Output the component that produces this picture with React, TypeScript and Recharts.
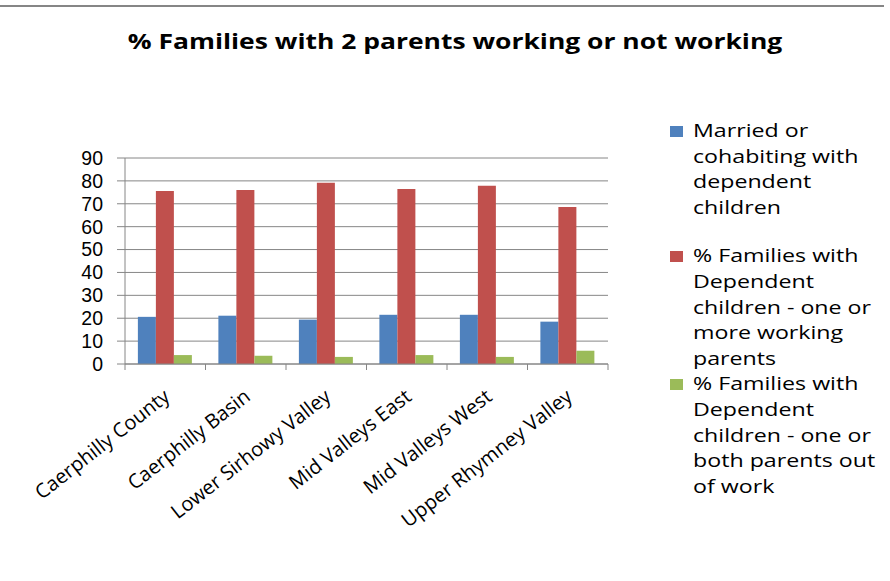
import React from 'react';
import { BarChart, Bar, XAxis, YAxis, CartesianGrid, Legend } from 'recharts';

const categories = [
  'Caerphilly County',
  'Caerphilly Basin',
  'Lower Sirhowy Valley',
  'Mid Valleys East',
  'Mid Valleys West',
  'Upper Rhymney Valley',
];
const marriedCohabiting = [20.6, 21.1, 19.4, 21.5, 21.5, 18.5];
const oneOrMoreWorking = [75.6, 76.0, 79.2, 76.5, 77.9, 68.6];
const outOfWork = [3.9, 3.6, 3.1, 3.9, 3.1, 5.8];
const yTicks = [0, 10, 20, 30, 40, 50, 60, 70, 80, 90];

const seriesNames = [
  'Married or cohabiting with dependent children',
  '% Families with Dependent children - one or more working parents',
  '% Families with Dependent children - one or both parents out of work',
];
const legendLines = [
  ['Married or', 'cohabiting with', 'dependent', 'children'],
  ['% Families with', 'Dependent', 'children - one or', 'more working', 'parents'],
  ['% Families with', 'Dependent', 'children - one or', 'both parents out', 'of work'],
];
const colors = ['#4F81BD', '#C0504D', '#9BBB59'];

const data = categories.map((c, i) => ({
  name: c,
  s0: marriedCohabiting[i],
  s1: oneOrMoreWorking[i],
  s2: outOfWork[i],
}));

const FONT = "'Open Sans', sans-serif";
const NUM_FONT = "'Liberation Sans', Arial, sans-serif";
const CHART_W = 890;
const CHART_H = 581;
const MARGIN = { top: 158, right: 282, bottom: 0, left: 0 };
const Y_W = 125;
const PLOT_W = CHART_W - MARGIN.left - MARGIN.right - Y_W;
const BAND = PLOT_W / categories.length;

const XTick = (props: any) => {
  const { x, y, payload, index } = props;
  const isLast = index === categories.length - 1;
  return (
    <g>
      <line x1={x - BAND / 2} y1={y - 8} x2={x - BAND / 2} y2={y - 2} stroke="#868686" strokeWidth={1} />
      {isLast && (
        <line x1={x + BAND / 2} y1={y - 8} x2={x + BAND / 2} y2={y - 2} stroke="#868686" strokeWidth={1} />
      )}
      <text
        x={0}
        y={0}
        transform={`translate(${x + 6}, ${y + 27}) rotate(-38)`}
        textAnchor="end"
        fontFamily={FONT}
        fontSize={20}
        fill="#000"
      >
        {payload.value}
      </text>
    </g>
  );
};

const LegendContent = () => (
  <div style={{ fontFamily: FONT, fontSize: 19, color: '#000' }}>
    {legendLines.map((lines, i) => (
      <div key={i} style={{ position: 'relative', marginBottom: i === 0 ? 23 : 0 }}>
        <div
          style={{
            position: 'absolute',
            left: 0,
            top: 8,
            width: 13,
            height: 11,
            background: colors[i],
          }}
        />
        <div style={{ marginLeft: 23, transform: 'scaleX(1.22)', transformOrigin: 'left center' }}>
          {lines.map((l, j) => (
            <div key={j} style={{ height: 25.6, lineHeight: '25.6px', whiteSpace: 'nowrap' }}>
              {l}
            </div>
          ))}
        </div>
      </div>
    ))}
  </div>
);

export default function App() {
  return (
    <div style={{ position: 'absolute', left: 0, top: 0, width: CHART_W, height: CHART_H, background: '#fff' }}>
      <div style={{ position: 'absolute', left: 0, top: 5, width: 884, height: 2, background: '#868686' }} />
      <div
        style={{
          position: 'absolute',
          left: 0,
          top: 26,
          width: 910,
          textAlign: 'center',
          fontFamily: FONT,
          fontWeight: 700,
          fontSize: 21.5,
          color: '#000',
          whiteSpace: 'nowrap',
          transform: 'scaleX(1.23)',
          transformOrigin: '455px 50%',
        }}
      >
        % Families with 2 parents working or not working
      </div>
      <BarChart
        width={CHART_W}
        height={CHART_H}
        data={data}
        margin={MARGIN}
        barCategoryGap="16%"
        barGap={0}
      >
        <CartesianGrid vertical={false} stroke="#868686" strokeWidth={1} />
        <XAxis
          dataKey="name"
          height={217}
          interval={0}
          axisLine={{ stroke: '#868686' }}
          tickLine={false}
          tick={<XTick />}
        />
        <YAxis
          width={Y_W}
          domain={[0, 90]}
          ticks={yTicks}
          interval={0}
          axisLine={{ stroke: '#868686' }}
          tickLine={{ stroke: '#868686' }}
          tickSize={8}
          tickMargin={14}
          tick={{ fontFamily: NUM_FONT, fontSize: 19.5, fill: '#000' }}
        />
        <Legend
          layout="vertical"
          align="center"
          verticalAlign="middle"
          wrapperStyle={{ position: 'absolute', left: 670, top: 118, width: 220 }}
          content={<LegendContent />}
        />
        <Bar dataKey="s0" name={seriesNames[0]} fill={colors[0]} isAnimationActive={false} />
        <Bar dataKey="s1" name={seriesNames[1]} fill={colors[1]} isAnimationActive={false} />
        <Bar dataKey="s2" name={seriesNames[2]} fill={colors[2]} isAnimationActive={false} />
      </BarChart>
    </div>
  );
}
